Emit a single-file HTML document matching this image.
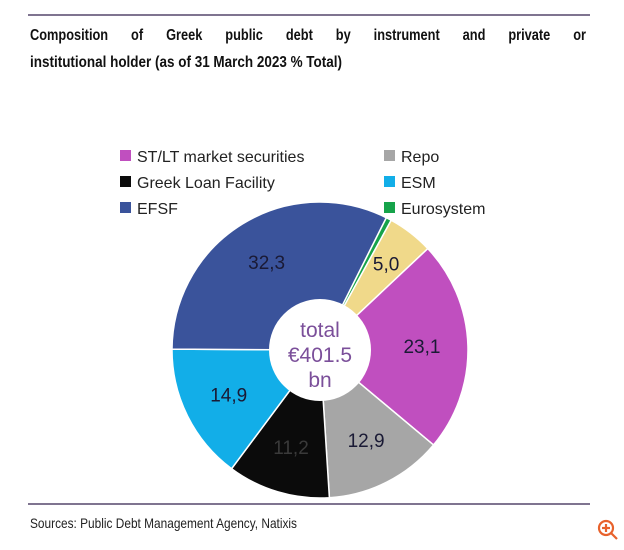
<!DOCTYPE html>
<html><head><meta charset="utf-8"><style>
html,body{margin:0;padding:0;background:#fff;}
svg{display:block;font-family:"Liberation Sans",sans-serif;}
</style></head><body>
<svg width="624" height="550" viewBox="0 0 624 550" id="svg">
<line x1="28" y1="15" x2="590" y2="15" stroke="#7f7490" stroke-width="2"/>
<g transform="translate(30,0) scale(0.8,1)">
<text id="t1" x="0" y="40" font-size="16" font-weight="bold" fill="#111">Composition of Greek public debt by instrument and private or</text>
<text x="0" y="67" font-size="16" font-weight="bold" fill="#111" textLength="390" lengthAdjust="spacingAndGlyphs">institutional holder (as of 31 March 2023 % Total)</text>
</g>
<g id="legend"></g>
<g id="pie"></g>
<line x1="28" y1="504" x2="590" y2="504" stroke="#7f7490" stroke-width="2"/>
<text x="30" y="528" font-size="14" fill="#222" textLength="267" lengthAdjust="spacingAndGlyphs">Sources: Public Debt Management Agency, Natixis</text>
<g stroke="#e8622c" fill="none" stroke-width="2.2">
<circle cx="606" cy="528" r="7"/><line x1="611" y1="533" x2="617" y2="539"/><line x1="602" y1="528" x2="610" y2="528"/><line x1="606" y1="524" x2="606" y2="532"/>
</g>
</svg>
<script>
const categories=["Eurosystem","Repo-yellow","ST/LT market securities","Repo","Greek Loan Facility","ESM","EFSF"];
const values=[0.6,5.0,23.1,12.9,11.2,14.9,32.3];
const labels=["","5,0","23,1","12,9","11,2","14,9","32,3"];
const colors=["#16a34a","#f0d98a","#c04fbf","#a6a6a6","#0b0b0b","#12aee8","#3a539b"];
const legendNames=["ST/LT market securities","Repo","Greek Loan Facility","ESM","EFSF","Eurosystem"];
const legendColors=["#c04fbf","#a6a6a6","#0b0b0b","#12aee8","#3a539b","#16a34a"];
const NS="http://www.w3.org/2000/svg";
const t1=document.getElementById('t1');
const w=t1.getComputedTextLength();
const target=556/0.8;
t1.setAttribute('word-spacing',((target-w)/9).toFixed(2));
const cx=320,cy=350,R=148,r0=51,startDeg=26.6;
const total=values.reduce((a,b)=>a+b,0);
function angle(v){return v/total*360;}
function pt(deg,rad){const a=(deg-90)*Math.PI/180;return [cx+rad*Math.cos(a),cy+rad*Math.sin(a)];}
const pie=document.getElementById('pie');
let a=startDeg;
values.forEach((v,i)=>{
 const a2=a+angle(v);
 const [x1,y1]=pt(a,R),[x2,y2]=pt(a2,R);
 const large=(a2-a)>180?1:0;
 const p=document.createElementNS(NS,'path');
 p.setAttribute('d',`M${cx},${cy}L${x1},${y1}A${R},${R} 0 ${large} 1 ${x2},${y2}Z`);
 p.setAttribute('fill',colors[i]);p.setAttribute('stroke','#fff');p.setAttribute('stroke-width','1.5');
 
 
 pie.appendChild(p);
 if(labels[i]){
  const mid=(a+a2)/2;const rr=angle(v)<25?108:102;const [lx,ly]=pt(mid,rr);
  const t=document.createElementNS(NS,'text');
  t.setAttribute('x',lx);t.setAttribute('y',ly+6);t.setAttribute('text-anchor','middle');
  t.setAttribute('font-size','19');t.setAttribute('fill',i==4?'#3a3a3a':'#1a1a35');
  t.textContent=labels[i];
  
  
  pie.appendChild(t);
 }
 a=a2;
});
const hole=document.createElementNS(NS,'circle');
hole.setAttribute('cx',cx);hole.setAttribute('cy',cy);hole.setAttribute('r',r0);hole.setAttribute('fill','#fff');


pie.appendChild(hole);
["total","€401.5","bn"].forEach((s,k)=>{
 const t=document.createElementNS(NS,'text');
 t.setAttribute('x',cx);t.setAttribute('y',cy-20+k*25+7);t.setAttribute('text-anchor','middle');
 t.setAttribute('font-size','21');t.setAttribute('fill','#7b4f9a');t.textContent=s;
 
 
 pie.appendChild(t);
});
const lg=document.getElementById('legend');
legendNames.forEach((n,i)=>{
 const col=i%2,row=Math.floor(i/2);
 const x=col?384:120,y=157+row*26;
 const g=document.createElementNS(NS,'g');
 
 
 const s=document.createElementNS(NS,'rect');
 s.setAttribute('x',x);s.setAttribute('y',y-7);s.setAttribute('width',11);s.setAttribute('height',11);s.setAttribute('fill',legendColors[i]);
 const t=document.createElementNS(NS,'text');
 t.setAttribute('x',x+17);t.setAttribute('y',y+5);t.setAttribute('font-size','16');t.setAttribute('fill','#222');t.textContent=n;
 g.appendChild(s);g.appendChild(t);lg.appendChild(g);
});
</script>
</body></html>
